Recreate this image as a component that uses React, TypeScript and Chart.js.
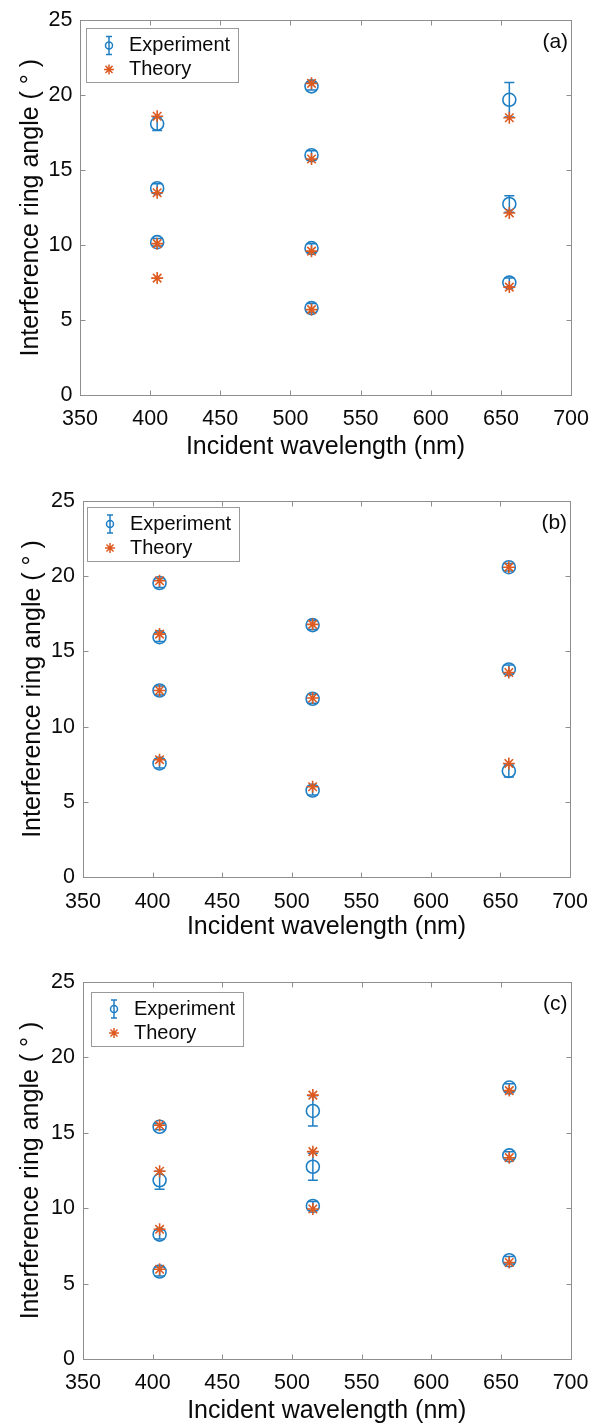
import React, { useEffect, useRef } from "react";
import { Chart, registerables } from "chart.js";

Chart.register(...registerables);

// ---------- data ----------
const X_TICKS = [350, 400, 450, 500, 550, 600, 650, 700];
const Y_TICKS = [0, 5, 10, 15, 20, 25];
const SERIES_NAMES = ["Experiment", "Theory"];
const X_TITLE = "Incident wavelength (nm)";
const Y_TITLE = "Interference ring angle ( \u00B0 )";

// panel (a)
const A_EXP_X = [405, 405, 405, 515, 515, 515, 515, 656, 656, 656];
const A_EXP_Y = [18.1, 13.8, 10.2, 20.6, 16.0, 9.8, 5.8, 19.7, 12.75, 7.5];
const A_EXP_ERR = [0.45, 0.3, 0.25, 0.25, 0.3, 0.3, 0.3, 1.15, 0.55, 0.3];
const A_TH_X = [405, 405, 405, 405, 515, 515, 515, 515, 656, 656, 656];
const A_TH_Y = [18.6, 13.5, 10.1, 7.8, 20.8, 15.75, 9.6, 5.7, 18.5, 12.15, 7.2];

// panel (b)
const B_EXP_X = [405, 405, 405, 405, 515, 515, 515, 656, 656, 656];
const B_EXP_Y = [19.55, 15.95, 12.4, 7.55, 16.75, 11.85, 5.75, 20.6, 13.8, 7.05];
const B_EXP_ERR = [0.3, 0.3, 0.3, 0.3, 0.3, 0.3, 0.3, 0.25, 0.3, 0.4];
const B_TH_X = [405, 405, 405, 405, 515, 515, 515, 656, 656, 656];
const B_TH_Y = [19.7, 16.15, 12.4, 7.8, 16.8, 11.9, 6.0, 20.6, 13.6, 7.55];

// panel (c)
const C_EXP_X = [405, 405, 405, 405, 515, 515, 515, 656, 656, 656];
const C_EXP_Y = [15.4, 11.85, 8.25, 5.8, 16.45, 12.75, 10.15, 18.0, 13.5, 6.55];
const C_EXP_ERR = [0.2, 0.6, 0.3, 0.3, 1.0, 0.9, 0.3, 0.25, 0.25, 0.25];
const C_TH_X = [405, 405, 405, 405, 515, 515, 515, 656, 656, 656];
const C_TH_Y = [15.5, 12.45, 8.6, 5.95, 17.5, 13.75, 9.95, 17.8, 13.35, 6.4];

// ---------- style ----------
const BLUE = "#1f7fc4";
const ORANGE = "#dd5a20";
const FRAME = "#8e8e8e";
const TEXT = "#0a0a0a";
const FONT = "'Liberation Sans', Arial, Helvetica, sans-serif";
const CAP = 5;

type PanelCfg = {
  tag: string;
  expX: number[];
  expY: number[];
  expErr: number[];
  thX: number[];
  thY: number[];
  height: number;
  padTop: number;
  padRight: number;
  yAxisWidth: number;
  xAxisHeight: number;
  xTickPad: number;
  yTickPad: number;
  xTitlePad: number;
  yTitlePad: number;
  legendDx: number;
  legendDy: number;
};

const PANELS: PanelCfg[] = [
  {
    tag: "(a)", expX: A_EXP_X, expY: A_EXP_Y, expErr: A_EXP_ERR, thX: A_TH_X, thY: A_TH_Y,
    height: 480, padTop: 16, padRight: 23, yAxisWidth: 80, xAxisHeight: 85,
    xTickPad: 11, yTickPad: 7.5, xTitlePad: 17.5, yTitlePad: 16.5, legendDx: 6, legendDy: 8,
  },
  {
    tag: "(b)", expX: B_EXP_X, expY: B_EXP_Y, expErr: B_EXP_ERR, thX: B_TH_X, thY: B_TH_Y,
    height: 480, padTop: 21, padRight: 27, yAxisWidth: 83, xAxisHeight: 83,
    xTickPad: 12, yTickPad: 8, xTitlePad: 17.5, yTitlePad: 18, legendDx: 4, legendDy: 6,
  },
  {
    tag: "(c)", expX: C_EXP_X, expY: C_EXP_Y, expErr: C_EXP_ERR, thX: C_TH_X, thY: C_TH_Y,
    height: 467, padTop: 22, padRight: 23, yAxisWidth: 83, xAxisHeight: 68,
    xTickPad: 11.5, yTickPad: 8, xTitlePad: 1, yTitlePad: 16.5, legendDx: 8, legendDy: 10,
  },
];

function drawStar(ctx: CanvasRenderingContext2D, x: number, y: number, r: number) {
  ctx.beginPath();
  ctx.moveTo(x - r, y); ctx.lineTo(x + r, y);
  ctx.moveTo(x, y - r); ctx.lineTo(x, y + r);
  const d = r * Math.SQRT1_2;
  ctx.moveTo(x - d, y - d); ctx.lineTo(x + d, y + d);
  ctx.moveTo(x - d, y + d); ctx.lineTo(x + d, y - d);
  ctx.stroke();
}

function Panel({ cfg }: { cfg: PanelCfg }) {
  const ref = useRef<HTMLCanvasElement>(null);

  useEffect(() => {
    const canvas = ref.current;
    if (!canvas) return;

    const errorBars = {
      id: "errorBars",
      beforeDatasetsDraw(chart: any) {
        const { ctx } = chart;
        const xs = chart.scales.x;
        const ys = chart.scales.y;
        ctx.save();
        ctx.strokeStyle = BLUE;
        ctx.lineWidth = 1.5;
        cfg.expX.forEach((xv, i) => {
          const px = xs.getPixelForValue(xv);
          const t = ys.getPixelForValue(cfg.expY[i] + cfg.expErr[i]);
          const b = ys.getPixelForValue(cfg.expY[i] - cfg.expErr[i]);
          ctx.beginPath();
          ctx.moveTo(px, t); ctx.lineTo(px, b);
          ctx.moveTo(px - CAP, t); ctx.lineTo(px + CAP, t);
          ctx.moveTo(px - CAP, b); ctx.lineTo(px + CAP, b);
          ctx.stroke();
        });
        ctx.restore();
      },
    };

    const frame = {
      id: "frame",
      afterDraw(chart: any) {
        const { ctx, chartArea: a } = chart;
        const xs = chart.scales.x;
        const ys = chart.scales.y;
        const L = Math.round(a.left) + 0.5;
        const R = Math.round(a.right) + 0.5;
        const T = Math.round(a.top) + 0.5;
        const B = Math.round(a.bottom) + 0.5;
        ctx.save();
        ctx.strokeStyle = FRAME;
        ctx.lineWidth = 1;
        ctx.strokeRect(L, T, R - L, B - T);
        const tl = 5;
        ctx.beginPath();
        X_TICKS.forEach((v) => {
          const px = Math.round(xs.getPixelForValue(v)) + 0.5;
          ctx.moveTo(px, B); ctx.lineTo(px, B - tl);
          ctx.moveTo(px, T); ctx.lineTo(px, T + tl);
        });
        Y_TICKS.forEach((v) => {
          const py = Math.round(ys.getPixelForValue(v)) + 0.5;
          ctx.moveTo(L, py); ctx.lineTo(L + tl, py);
          ctx.moveTo(R, py); ctx.lineTo(R - tl, py);
        });
        ctx.stroke();

        // panel tag
        ctx.fillStyle = TEXT;
        ctx.font = `21px ${FONT}`;
        ctx.textAlign = "right";
        ctx.textBaseline = "middle";
        ctx.fillText(cfg.tag, a.right - 3, a.top + 22);

        // legend box
        const lx = a.left + cfg.legendDx;
        const ly = a.top + cfg.legendDy;
        const lw = 152;
        const lh = 54;
        ctx.fillStyle = "#ffffff";
        ctx.fillRect(lx, ly, lw, lh);
        ctx.strokeStyle = "#9a9a9a";
        ctx.lineWidth = 1;
        ctx.strokeRect(Math.round(lx) + 0.5, Math.round(ly) + 0.5, lw, lh);

        const ix = lx + 23;
        const y1 = ly + 17;
        const y2 = ly + 41;
        // experiment icon
        ctx.strokeStyle = BLUE;
        ctx.lineWidth = 1.5;
        ctx.beginPath();
        ctx.moveTo(ix, y1 - 9); ctx.lineTo(ix, y1 + 9);
        ctx.moveTo(ix - 3, y1 - 9); ctx.lineTo(ix + 3, y1 - 9);
        ctx.moveTo(ix - 3, y1 + 9); ctx.lineTo(ix + 3, y1 + 9);
        ctx.stroke();
        ctx.beginPath();
        ctx.arc(ix, y1, 3.5, 0, Math.PI * 2);
        ctx.stroke();
        // theory icon
        ctx.strokeStyle = ORANGE;
        ctx.lineWidth = 1.5;
        drawStar(ctx, ix, y2, 5);

        ctx.fillStyle = TEXT;
        ctx.font = `20px ${FONT}`;
        ctx.textAlign = "left";
        ctx.textBaseline = "middle";
        ctx.fillText(SERIES_NAMES[0], lx + 43, y1);
        ctx.fillText(SERIES_NAMES[1], lx + 43, y2);
        ctx.restore();
      },
    };

    const chart = new Chart(canvas, {
      type: "scatter",
      data: {
        datasets: [
          {
            label: SERIES_NAMES[0],
            data: cfg.expX.map((x, i) => ({ x, y: cfg.expY[i] })),
            pointStyle: "circle",
            pointRadius: 6.5,
            pointBorderWidth: 1.6,
            borderColor: BLUE,
            backgroundColor: "rgba(0,0,0,0)",
            pointBackgroundColor: "rgba(0,0,0,0)",
            pointBorderColor: BLUE,
            showLine: false,
            order: 1,
          },
          {
            label: SERIES_NAMES[1],
            data: cfg.thX.map((x, i) => ({ x, y: cfg.thY[i] })),
            pointStyle: "star",
            pointRadius: 6,
            pointBorderWidth: 1.6,
            borderColor: ORANGE,
            backgroundColor: ORANGE,
            pointBorderColor: ORANGE,
            showLine: false,
            order: 0,
          },
        ],
      },
      options: {
        responsive: false,
        animation: false,
        events: [],
        layout: { padding: { left: 0, top: cfg.padTop, right: cfg.padRight, bottom: 0 } },
        plugins: { legend: { display: false }, tooltip: { enabled: false } },
        scales: {
          x: {
            type: "linear",
            min: X_TICKS[0],
            max: X_TICKS[X_TICKS.length - 1],
            afterBuildTicks: (s: any) => { s.ticks = X_TICKS.map((v) => ({ value: v })); },
            afterFit: (s: any) => { s.height = cfg.xAxisHeight; },
            grid: { display: false, drawTicks: false },
            border: { display: false },
            ticks: {
              padding: cfg.xTickPad,
              color: TEXT,
              font: { family: FONT, size: 21.5 },
              maxRotation: 0,
              autoSkip: false,
            },
            title: {
              display: true,
              text: X_TITLE,
              color: TEXT,
              font: { family: FONT, size: 25 },
              padding: { top: 0, bottom: cfg.xTitlePad },
            },
          },
          y: {
            type: "linear",
            min: Y_TICKS[0],
            max: Y_TICKS[Y_TICKS.length - 1],
            afterBuildTicks: (s: any) => { s.ticks = Y_TICKS.map((v) => ({ value: v })); },
            afterFit: (s: any) => { s.width = cfg.yAxisWidth; },
            grid: { display: false, drawTicks: false },
            border: { display: false },
            ticks: {
              padding: cfg.yTickPad,
              color: TEXT,
              font: { family: FONT, size: 21.5 },
              autoSkip: false,
            },
            title: {
              display: true,
              text: Y_TITLE,
              color: TEXT,
              font: { family: FONT, size: 25 },
              padding: { top: cfg.yTitlePad, bottom: 0 },
            },
          },
        },
      },
      plugins: [errorBars, frame],
    });

    return () => chart.destroy();
  }, [cfg]);

  return (
    <div style={{ width: 600, height: cfg.height }}>
      <canvas ref={ref} width={600} height={cfg.height} style={{ display: "block" }} />
    </div>
  );
}

export default function App() {
  useEffect(() => {
    document.body.style.margin = "0";
    document.body.style.background = "#ffffff";
  }, []);
  return (
    <div style={{ width: 600, background: "#ffffff" }}>
      {PANELS.map((p) => (
        <Panel key={p.tag} cfg={p} />
      ))}
    </div>
  );
}
